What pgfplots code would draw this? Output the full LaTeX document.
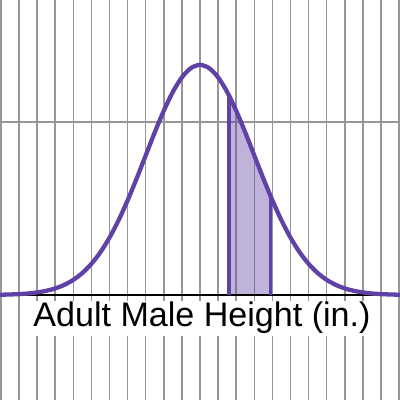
\documentclass[border=0pt]{standalone}
\usepackage{pgfplots}
\pgfplotsset{compat=1.18}
\usepackage{fontspec}
\setmainfont{Liberation Sans}
\definecolor{dpurple}{HTML}{6042A6}
\definecolor{gridgray}{RGB}{150,150,150}
\begin{document}
\begin{tikzpicture}
\begin{axis}[
  width=400bp, height=400bp, scale only axis,
  xmin=58.95, xmax=81.05, ymin=-0.0607, ymax=0.1705,
  axis line style={draw=none},
  tick style={draw=none},
  xtick={59,60,...,81}, ytick={0.1},
  xticklabels={}, yticklabels={},
  grid=major,
  major grid style={gridgray, line width=1.5bp},
  clip=true,
]
% label box
\node[fill=white, inner sep=1.5bp, anchor=base, font=\fontsize{34.2}{36}\selectfont]
  at (axis cs:70.11,-0.0185) {Adult Male Height (in.)};
% shaded region
\addplot[draw=none, fill=dpurple, fill opacity=0.4] coordinates {
 (71.6,0) (71.6,0.11535) (71.75,0.11218) (72,0.10648) (72.25,0.10038) (72.5,0.09397)
 (72.75,0.08736) (73,0.08066) (73.25,0.07395) (73.5,0.06733) (73.75,0.06088) (73.9,0.05712) (73.9,0)
} \closedcycle;
% x axis
\addplot[black, line width=2.8bp] coordinates {(58.9,0) (81.1,0)};
% region edges
\addplot[dpurple, line width=3.8bp] coordinates {(71.6,0) (71.6,0.11535)};
\addplot[dpurple, line width=3.8bp] coordinates {(73.9,0) (73.9,0.05712)};
% normal curve
\addplot[dpurple, line width=4.3bp, smooth] coordinates {
 (58.5,0.00009) (59,0.00016) (59.5,0.00029) (60,0.00051) (60.5,0.00088) (61,0.00148)
 (61.5,0.00240) (62,0.00380) (62.5,0.00584) (63,0.00874) (63.5,0.01272) (64,0.01800)
 (64.5,0.02477) (65,0.03316) (65.5,0.04317) (66,0.05467) (66.5,0.06733) (67,0.08066)
 (67.5,0.09397) (68,0.10648) (68.5,0.11735) (69,0.12579) (69.5,0.13115) (70,0.13298)
 (70.5,0.13115) (71,0.12579) (71.5,0.11735) (72,0.10648) (72.5,0.09397) (73,0.08066)
 (73.5,0.06733) (74,0.05467) (74.5,0.04317) (75,0.03316) (75.5,0.02477) (76,0.01800)
 (76.5,0.01272) (77,0.00874) (77.5,0.00584) (78,0.00380) (78.5,0.00240) (79,0.00148)
 (79.5,0.00088) (80,0.00051) (80.5,0.00029) (81,0.00016) (81.5,0.00009)
};
\end{axis}
\pgfresetboundingbox
\path (current axis.south west) rectangle (current axis.north east);
\end{tikzpicture}
\end{document}
